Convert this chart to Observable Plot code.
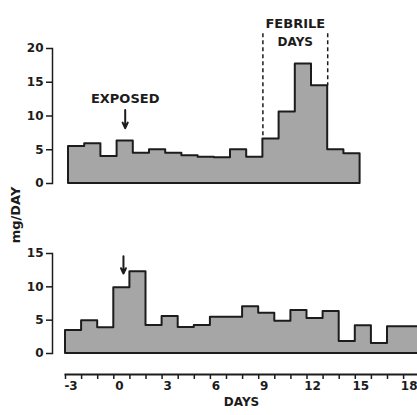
<!DOCTYPE html>
<html>
<head>
<meta charset="utf-8">
<script src="https://cdn.jsdelivr.net/npm/d3@7"></script>
<script src="https://cdn.jsdelivr.net/npm/@observablehq/plot@0.6"></script>
<style>
  html, body { margin: 0; padding: 0; background: #fff; }
  #chart { position: relative; width: 417px; height: 415px; overflow: hidden; background: #fff; }
  #chart > .panel { position: absolute; left: 0; }
  #ylab { position: absolute; left: 15px; top: 215px; transform: translate(-50%, -50%) rotate(-90deg);
          font: bold 13px "DejaVu Sans", sans-serif; color: #1c1c1c; white-space: nowrap; z-index: 5; line-height: 1; }
</style>
</head>
<body>
<div id="chart">
  <div class="panel" id="top" style="top:0"></div>
  <div class="panel" id="bottom" style="top:200px"></div>
  <div class="panel" id="axis" style="top:360px"></div>
  <div id="ylab">mg/DAY</div>
</div>
<script>
// ---- data ----
const topDays = d3.range(-3, 15);          // -3 .. 14
const topValues = [5.5, 5.9, 4.0, 6.3, 4.5, 5.0, 4.5, 4.1, 3.9, 3.8, 5.0, 3.9, 6.6, 10.6, 17.7, 14.5, 5.0, 4.4];
const bottomDays = d3.range(-3, 19);       // -3 .. 18
const bottomValues = [3.45, 4.9, 3.85, 9.85, 12.25, 4.2, 5.55, 3.9, 4.2, 5.45, 5.45, 7.0, 6.05, 4.85, 6.45, 5.25, 6.3, 1.8, 4.15, 1.5, 4.0, 4.0];
const topYTicks = [0, 5, 10, 15, 20];
const bottomYTicks = [0, 5, 10, 15];
const xTickLabels = [-3, 0, 3, 6, 9, 12, 15, 18];
const exposedDay = 0;
const febrileStart = 9, febrileEnd = 12;
const exposedLabel = "EXPOSED";
const febrileLabel = ["FEBRILE", "DAYS"];
const xLabel = "DAYS";

// ---- helpers ----
function steps(days, values) {
  const pts = days.map((d, i) => ({x: d - 0.5, y: values[i]}));
  pts.push({x: days[days.length - 1] + 0.5, y: values[values.length - 1]});
  return pts;
}
const ink = "#1c1c1c";
const fillGray = "#a6a6a6";
const baseStyle = {fontFamily: "DejaVu Sans, sans-serif", fontWeight: "bold", fontSize: "12px", color: ink, background: "transparent", overflow: "visible"};

// ---- top panel ----
const valAt = (days, vals, d) => vals[days.indexOf(d)];
const febrileEdges = [
  {x: febrileStart - 0.5, y2: Math.max(valAt(topDays, topValues, febrileStart), valAt(topDays, topValues, febrileStart - 1))},
  {x: febrileEnd + 0.5, y2: Math.max(valAt(topDays, topValues, febrileEnd), valAt(topDays, topValues, febrileEnd + 1))}
];
const topPlot = Plot.plot({
  width: 417, height: 200,
  marginTop: 48, marginBottom: 17, marginLeft: 52, marginRight: 0,
  style: baseStyle,
  x: {domain: [-3.5, 14.5], range: [68, 359.6], axis: null},
  y: {domain: [0, 20], axis: null},
  marks: [
    Plot.areaY(steps(topDays, topValues), {x: "x", y: "y", curve: "step-after", fill: fillGray, stroke: ink, strokeWidth: 2}),
    Plot.frame({anchor: "left", stroke: ink, strokeWidth: 1.5}),
    Plot.axisY(topYTicks, {anchor: "left", tickSize: 6, tickPadding: 3, stroke: ink, strokeWidth: 1.5, fill: ink, label: null}),
    Plot.ruleX(febrileEdges, {x: "x", y1: 22.2, y2: "y2", stroke: ink, strokeWidth: 1.5, strokeDasharray: "4,3"}),
    Plot.text([febrileLabel[0]], {x: (febrileStart + febrileEnd) / 2, y: 23.7, text: d => d, fontSize: 13, fill: ink}),
    Plot.text([febrileLabel[1]], {x: (febrileStart + febrileEnd) / 2, y: 20.9, text: d => d, fontSize: 12, fill: ink}),
    Plot.text([exposedLabel], {x: exposedDay, y: 12.6, text: d => d, fontSize: 13, fill: ink}),
    Plot.arrow([exposedDay], {x1: d => d, x2: d => d, y1: 10.9, y2: 8.2, stroke: ink, strokeWidth: 2, headLength: 6, headAngle: 50})
  ]
});
document.getElementById("top").appendChild(topPlot);

// ---- bottom panel ----
const bottomPlot = Plot.plot({
  width: 417, height: 160,
  marginTop: 53, marginBottom: 7, marginLeft: 52, marginRight: 0,
  style: baseStyle,
  x: {domain: [-3.5, 18.5], range: [65, 419.2], axis: null},
  y: {domain: [0, 15], axis: null},
  marks: [
    Plot.areaY(steps(bottomDays, bottomValues), {x: "x", y: "y", curve: "step-after", fill: fillGray, stroke: ink, strokeWidth: 2}),
    Plot.frame({anchor: "left", stroke: ink, strokeWidth: 1.5}),
    Plot.axisY(bottomYTicks, {anchor: "left", tickSize: 6, tickPadding: 3, stroke: ink, strokeWidth: 1.5, fill: ink, label: null}),
    Plot.arrow([exposedDay], {x1: d => d + 0.1, x2: d => d + 0.1, y1: 14.6, y2: 12.0, stroke: ink, strokeWidth: 2, headLength: 6, headAngle: 50})
  ]
});
document.getElementById("bottom").appendChild(bottomPlot);

// ---- shared x axis ----
const edges = d3.range(-3.5, 19, 1);
const axisPlot = Plot.plot({
  width: 417, height: 55,
  marginTop: 0, marginBottom: 41, marginLeft: 65, marginRight: 0,
  style: baseStyle,
  x: {domain: [-3.5, 18.5], range: [65, 419.2], axis: null},
  marks: [
    Plot.frame({anchor: "bottom", stroke: ink, strokeWidth: 2}),
    Plot.axisX(edges, {anchor: "bottom", tickSize: 5, tickFormat: () => "", stroke: ink, strokeWidth: 1.5, label: null}),
    Plot.text(xTickLabels, {x: d => d, frameAnchor: "bottom", dy: 15, dx: -2.5, text: d => String(d), fontSize: 12, fill: ink}),
    Plot.text([xLabel], {frameAnchor: "bottom", dy: 31, text: d => d, fontSize: 12, fill: ink})
  ]
});
document.getElementById("axis").appendChild(axisPlot);
</script>
</body>
</html>
